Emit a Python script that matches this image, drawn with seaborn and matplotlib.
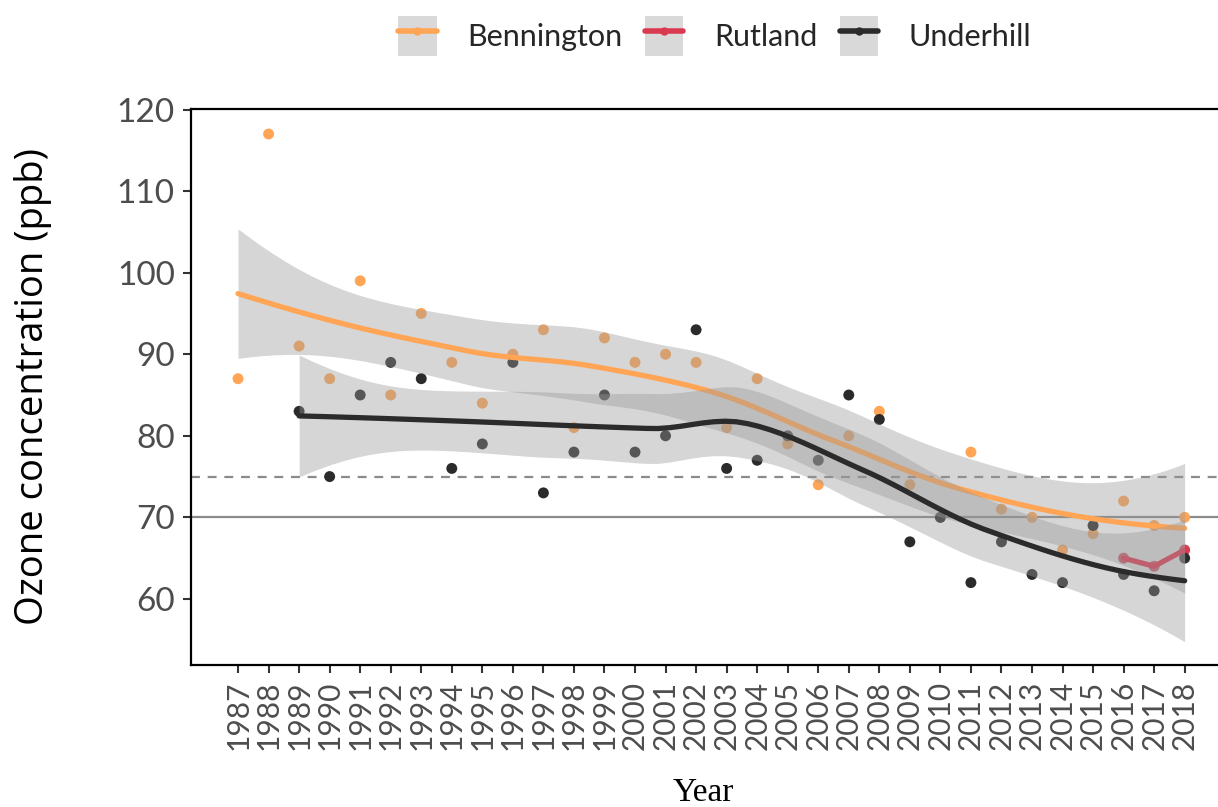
import numpy as np
import pandas as pd
import matplotlib
matplotlib.use("Agg")
import matplotlib.pyplot as plt
import seaborn as sns
from matplotlib.patches import Rectangle
from matplotlib.lines import Line2D
from matplotlib.legend_handler import HandlerTuple

# --- data ---
bennington_years = list(range(1987, 2019))
bennington_ppb = [87, 117, 91, 87, 99, 85, 95, 89, 84, 90, 93, 81, 92, 89, 90, 89,
                  81, 87, 79, 74, 80, 83, 74, 70, 78, 71, 70, 66, 68, 72, 69, 70]
underhill_years = list(range(1989, 2019))
underhill_ppb = [83, 75, 85, 89, 87, 76, 79, 89, 73, 78, 85, 78, 80, 93, 76, 77,
                 80, 77, 85, 82, 67, 70, 62, 67, 63, 62, 69, 63, 61, 65]
rutland_years = [2016, 2017, 2018]
rutland_ppb = [65, 64, 66]

sites = ["Bennington", "Rutland", "Underhill"]
colors = {"Bennington": "#FFA555", "Rutland": "#D93A50", "Underhill": "#2B2B2B"}
standard_old = 75   # dashed
standard_new = 70   # solid


def t_quantile(df):
    """Cornish-Fisher approximation of the 97.5% Student t quantile."""
    z = 1.959963985
    g1 = (z**3 + z) / 4
    g2 = (5 * z**5 + 16 * z**3 + 3 * z) / 96
    g3 = (3 * z**7 + 19 * z**5 + 17 * z**3 - 15 * z) / 384
    return z + g1 / df + g2 / df**2 + g3 / df**3


def kd_vertices(x, fc):
    """1-d version of the loess kd-tree: split cells at the median until <= fc points."""
    lo, hi = x.min(), x.max()
    margin = 0.005 * (hi - lo)
    verts = {lo - margin, hi + margin}

    def split(pts):
        if len(pts) <= fc:
            return
        pts = np.sort(pts)
        m = (len(pts) - 1) // 2
        v = (pts[m] + pts[m + 1]) / 2
        verts.add(v)
        split(pts[pts <= v])
        split(pts[pts > v])

    split(x)
    return np.array(sorted(verts))


def loess(x, y, xnew, span=0.75, cell=0.2):
    """Local quadratic loess with kd-tree + cubic Hermite interpolation, 95% band."""
    x = np.asarray(x, float)
    y = np.asarray(y, float)
    n = len(x)
    q = int(np.floor(n * span))

    def rows(x0):
        d = np.abs(x - x0)
        h = np.sort(d)[q - 1] * 1.0001
        w = np.clip(1 - (d / h) ** 3, 0, None) ** 3
        X = np.vstack([np.ones(n), x - x0, (x - x0) ** 2]).T
        XtW = X.T * w
        A = np.linalg.solve(XtW @ X, XtW)
        return A[0], A[1]

    verts = kd_vertices(x, int(np.floor(n * span * cell)))
    vals, slopes = zip(*[rows(v) for v in verts])
    vals, slopes = np.array(vals), np.array(slopes)

    def operator(pts):
        out = []
        for p in pts:
            i = min(max(np.searchsorted(verts, p) - 1, 0), len(verts) - 2)
            a, b = verts[i], verts[i + 1]
            hh = b - a
            t = (p - a) / hh
            h00 = 2 * t**3 - 3 * t**2 + 1
            h10 = t**3 - 2 * t**2 + t
            h01 = -2 * t**3 + 3 * t**2
            h11 = t**3 - t**2
            out.append(h00 * vals[i] + h10 * hh * slopes[i]
                       + h01 * vals[i + 1] + h11 * hh * slopes[i + 1])
        return np.array(out)

    L = operator(x)
    Lnew = operator(xnew)
    fit = Lnew @ y
    IL = np.eye(n) - L
    M = IL.T @ IL
    d1 = np.trace(M)
    d2 = np.trace(M @ M)
    s = np.sqrt(np.sum((IL @ y) ** 2) / d1)
    se = s * np.sqrt(np.sum(Lnew ** 2, axis=1))
    t = t_quantile(d1 ** 2 / d2)
    return fit, fit - t * se, fit + t * se


points = pd.concat([
    pd.DataFrame({"year": bennington_years, "ppb": bennington_ppb, "site": "Bennington"}),
    pd.DataFrame({"year": rutland_years, "ppb": rutland_ppb, "site": "Rutland"}),
    pd.DataFrame({"year": underhill_years, "ppb": underhill_ppb, "site": "Underhill"}),
], ignore_index=True)

sns.set_theme(style="white")
plt.rcParams["font.family"] = ["Lato", "DejaVu Sans"]

fig = plt.figure(figsize=(12.18, 8.07), dpi=100)
ax = fig.add_axes([190.7 / 1218, (807 - 665) / 807, (1232 - 190.7) / 1218, (665 - 108.7) / 807])

ax.axhline(standard_old, color="#8a8a8a", lw=1.6, ls=(0, (4, 3.5)), zorder=1)
ax.axhline(standard_new, color="#8a8a8a", lw=1.6, zorder=1)

sns.scatterplot(data=points, x="year", y="ppb", hue="site", palette=colors,
                hue_order=sites, s=62, linewidth=0, legend=False, ax=ax, zorder=2)

# smoothers: ribbon then line per site, Bennington -> Rutland -> Underhill
z = 3
for site, yrs, vals in [("Bennington", bennington_years, bennington_ppb),
                        ("Rutland", rutland_years, rutland_ppb),
                        ("Underhill", underhill_years, underhill_ppb)]:
    if len(yrs) > 5:
        grid = np.linspace(min(yrs), max(yrs), 80)
        fit, lo, hi = loess(yrs, vals, grid)
        ax.fill_between(grid, lo, hi, color="#999999", alpha=0.4, lw=0, zorder=z)
        smooth = pd.DataFrame({"year": grid, "ppb": fit})
    else:
        smooth = pd.DataFrame({"year": yrs, "ppb": vals})
    sns.lineplot(data=smooth, x="year", y="ppb", color=colors[site], lw=3.8,
                 ax=ax, zorder=z + 1)
    z += 2

ax.set_xlim(1985.45, 2019.55)
ax.set_ylim(51.9, 120.1)
ax.set_xticks(range(1987, 2019))
ax.set_xticklabels([str(y) for y in range(1987, 2019)], rotation=90)
ax.set_yticks(range(60, 121, 10))

for side in ["left", "bottom", "top"]:
    ax.spines[side].set_visible(True)
    ax.spines[side].set_color("black")
    ax.spines[side].set_linewidth(1.6)
ax.spines["right"].set_visible(False)

ax.tick_params(axis="x", which="major", bottom=True, length=5.5, width=1.5,
               color="#333333", labelcolor="#4D4D4D", labelsize=21.5, pad=6)
ax.tick_params(axis="y", which="major", left=True, length=5.5, width=1.5,
               color="#333333", labelcolor="#4D4D4D", labelsize=24, pad=6)

ax.set_ylabel("Ozone concentration (ppb)", fontsize=27.5, color="black",
              family=["Open Sans", "DejaVu Sans"])
ax.yaxis.set_label_coords(-0.133, 0.5)
ax.set_xlabel("Year", fontsize=24, color="black", family=["Liberation Serif", "DejaVu Serif"])
ax.xaxis.set_label_coords(0.492, -0.202)

handles = []
for site in sites:
    box = Rectangle((0, 0), 1, 1, facecolor="#D9D9D9", edgecolor="none")
    ln = Line2D([0], [0], color=colors[site], lw=4, marker="o", markersize=6,
                markeredgewidth=0)
    handles.append((box, ln))
fig.legend(handles, sites, handler_map={tuple: HandlerTuple(ndivide=1, pad=0)},
           loc="center", bbox_to_anchor=(715 / 1218, 1 - 36 / 807), ncol=3,
           frameon=False, fontsize=22, numpoints=1, handlelength=1.25,
           handleheight=1.65, handletextpad=1.0, columnspacing=0.75)

fig.savefig("out.png", dpi=100)
